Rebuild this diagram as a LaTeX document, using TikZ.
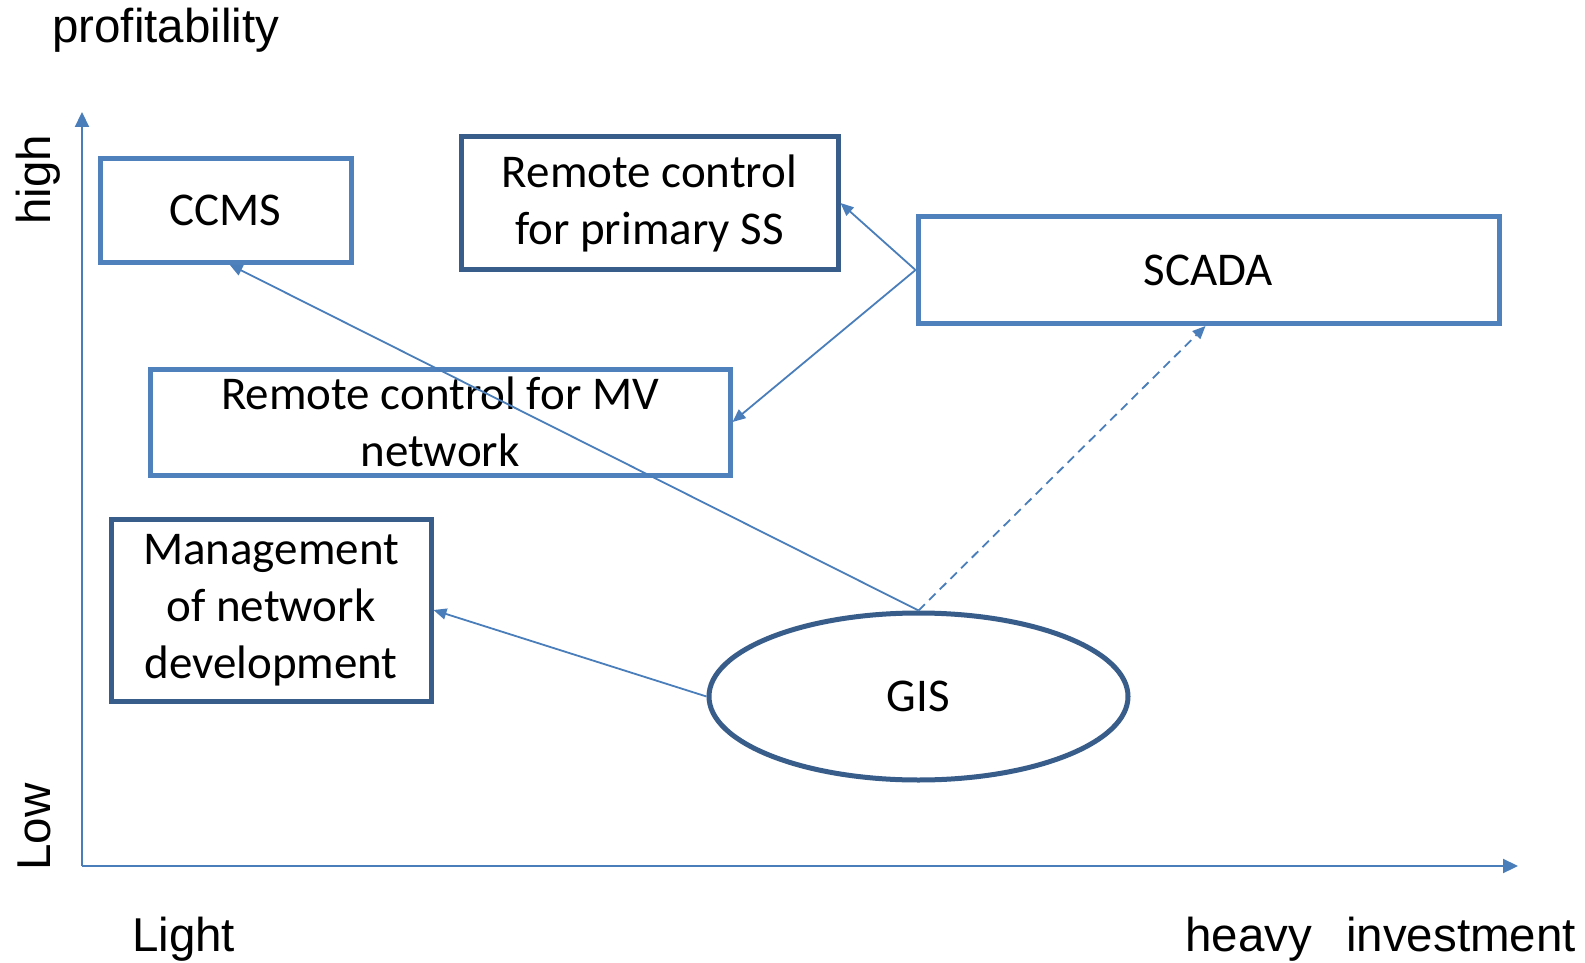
\documentclass[tikz,border=0pt]{standalone}
\usepackage{fontspec}
\setmainfont{Carlito}
\newfontfamily\arialfont{Liberation Sans}
\usetikzlibrary{shapes.geometric,arrows.meta}

\definecolor{boxlight}{HTML}{4F81BD}
\definecolor{boxdark}{HTML}{385D8A}
\definecolor{linkblue}{HTML}{4A7EBB}

\tikzset{
  item/.style={draw=#1, line width=5pt, fill=white, inner sep=0pt,
    align=center, font=\fontsize{47}{57}\selectfont},
  item/.default=boxlight,
  oval/.style={ellipse, draw=boxdark, line width=5pt, fill=white, inner sep=0pt,
    font=\fontsize{47}{57}\selectfont},
  axisline/.style={draw=linkblue, line width=2.2pt,
    -{Triangle[length=15pt,width=14pt]}},
  link/.style={draw=linkblue, line width=1.8pt,
    -{Triangle[length=13pt,width=11pt]}},
  dashlink/.style={link, dash pattern=on 9pt off 6pt},
  axislabel/.style={font=\arialfont\fontsize{47.5}{57}\selectfont, inner sep=0pt}
}

\begin{document}
\begin{tikzpicture}[x=1pt, y=-1pt]
  \useasboundingbox (0,0) rectangle (1585,963);

  % axes
  \coordinate (origin) at (82,866);
  \coordinate (ytip) at (82,112);
  \coordinate (xtip) at (1518,866);
  \draw[axisline] (origin) -- (ytip);
  \draw[axisline] (origin) -- (xtip);

  % axis labels
  \node[axislabel, anchor=base west] (prof) at (52,43) {profitability};
  \node[axislabel, anchor=base, rotate=90] (high) at (50,180) {high};
  \node[axislabel, anchor=base, rotate=90] (low) at (50,827) {Low};
  \node[axislabel, anchor=base west] (light) at (132,951) {Light};
  \node[axislabel, anchor=base west] (heavy) at (1185,951) {heavy\hspace{0.72em}investment};

  % items
  \node[item, minimum width=251pt, minimum height=103pt] (ccms) at (225.5,210.5) {CCMS};
  \node[item=boxdark, minimum width=377pt, minimum height=132.5pt] (rcss) at (649.5,203) {Remote control\\for primary SS};
  \node[item, minimum width=581pt, minimum height=107pt] (scada) at (1208.5,270) {SCADA};
  \node[item, minimum width=580pt, minimum height=106pt] (rcmv) at (440,422) {Remote control for MV\\network};
  \node[item=boxdark, minimum width=320pt, minimum height=182pt] (mgmt) at (271,610) {Management\\of network\\development};
  \node[oval, minimum width=419pt, minimum height=167pt] (gis) at (918.5,696.5) {GIS};

  % links
  \draw[link] (gis.north) -- ([xshift=4pt]ccms.south);
  \draw[link] (gis.west) -- (mgmt.east);
  \draw[dashlink] (gis.north) -- ([xshift=-3pt]scada.south);
  \draw[link] (scada.west) -- (rcss.east);
  \draw[link] (scada.west) -- (rcmv.east);
\end{tikzpicture}
\end{document}
